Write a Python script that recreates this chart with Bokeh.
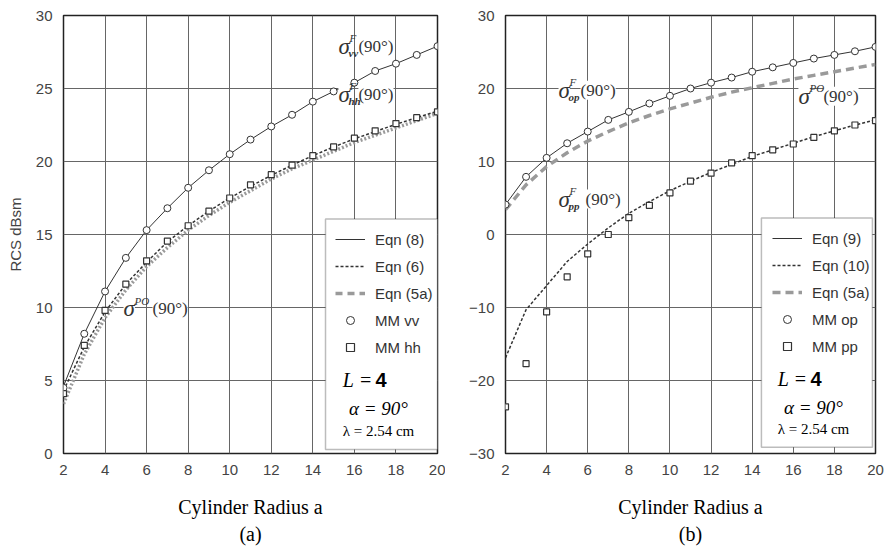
from bokeh.plotting import figure
from bokeh.models import Range1d, FixedTicker, BoxAnnotation, Legend, LegendItem, Label
from bokeh.layouts import row
from bokeh.embed import file_html
from bokeh.resources import INLINE

# ---------------- data ----------------
radius = list(range(2, 21))

# panel (a)
mm_vv = [4.5, 8.2, 11.1, 13.4, 15.3, 16.8, 18.2, 19.4, 20.5, 21.5, 22.4, 23.2, 24.1, 24.8, 25.4, 26.2, 26.7, 27.3, 27.9]
eqn8 = [4.6, 8.2, 11.1, 13.4, 15.3, 16.8, 18.2, 19.4, 20.5, 21.5, 22.4, 23.2, 24.1, 24.8, 25.4, 26.2, 26.7, 27.3, 27.9]
mm_hh = [4.1, 7.4, 9.8, 11.6, 13.2, 14.55, 15.6, 16.6, 17.5, 18.4, 19.1, 19.75, 20.4, 21.0, 21.6, 22.1, 22.6, 23.0, 23.4]
eqn6 = [4.3, 7.3, 9.7, 11.6, 13.1, 14.5, 15.6, 16.6, 17.5, 18.3, 19.05, 19.75, 20.4, 21.0, 21.55, 22.05, 22.55, 23.0, 23.45]
eqn5a = [3.4, 6.8, 9.3, 11.2, 12.8, 14.1, 15.3, 16.3, 17.2, 18.0, 18.8, 19.5, 20.1, 20.7, 21.3, 21.8, 22.3, 22.8, 23.3]

# panel (b)
mm_op = [4.1, 7.9, 10.5, 12.5, 14.1, 15.7, 16.8, 17.95, 19.0, 20.0, 20.8, 21.5, 22.3, 22.9, 23.5, 24.1, 24.6, 25.1, 25.7]
eqn9 = [4.1, 7.9, 10.5, 12.5, 14.1, 15.7, 16.8, 17.95, 19.0, 20.0, 20.8, 21.5, 22.3, 22.9, 23.5, 24.1, 24.6, 25.1, 25.7]
mm_pp = [-23.6, -17.7, -10.6, -5.8, -2.65, 0.0, 2.3, 4.0, 5.7, 7.3, 8.4, 9.8, 10.8, 11.6, 12.4, 13.3, 14.2, 15.0, 15.6]
eqn10 = [-16.9, -10.3, -7.0, -3.7, -1.3, 0.9, 2.9, 4.5, 6.0, 7.3, 8.5, 9.6, 10.7, 11.6, 12.5, 13.4, 14.2, 15.0, 15.7]

x_ticks = [2, 4, 6, 8, 10, 12, 14, 16, 18, 20]
y_ticks_a = [0, 5, 10, 15, 20, 25, 30]
y_ticks_b = [-30, -20, -10, 0, 10, 20, 30]

SANS = "Liberation Sans"
SERIF = "Liberation Serif"
INK = "#333333"
GRAY = "#9a9a9a"


def base_fig(width, y0, y1, yticks, bl, br, bt, bb, caption):
    p = figure(width=width, height=550, output_backend="svg", toolbar_location=None,
               x_range=Range1d(2, 20), y_range=Range1d(y0, y1),
               min_border_left=bl, min_border_right=br, min_border_top=bt, min_border_bottom=bb)
    p.xaxis.ticker = FixedTicker(ticks=x_ticks)
    p.yaxis.ticker = FixedTicker(ticks=yticks)
    for ax in (p.xaxis, p.yaxis):
        ax.axis_line_color = None
        ax.major_tick_line_color = None
        ax.minor_tick_line_color = None
        ax.major_label_text_font = SANS
        ax.major_label_text_font_size = "15px"
        ax.major_label_text_color = "#444444"
    p.xaxis.major_label_standoff = 5
    p.yaxis.major_label_standoff = 5
    p.grid.grid_line_color = "#666666"
    p.grid.grid_line_width = 1
    p.outline_line_color = "#222222"
    p.outline_line_width = 1.5
    p.background_fill_color = "white"
    p.border_fill_color = "white"
    p.xaxis.axis_label = "Cylinder Radius a\n" + caption
    p.xaxis.axis_label_text_font = SERIF
    p.xaxis.axis_label_text_font_style = "normal"
    p.xaxis.axis_label_text_font_size = "20px"
    p.xaxis.axis_label_text_line_height = 1.25
    p.xaxis.axis_label_text_color = "black"
    p.xaxis.axis_label_standoff = 18
    return p


def sigma(p, x, y, sup, sub, off):
    p.add_layout(Label(x=x, y=y, text="σ", text_font=SERIF, text_font_style="italic",
                       text_font_size="23px", text_baseline="middle", text_color=INK,
                       background_fill_color="white"))
    p.add_layout(Label(x=x, y=y, x_offset=off, text="(90°)", text_font=SERIF,
                       text_font_size="17px", text_baseline="middle", text_color=INK,
                       background_fill_color="white"))
    p.add_layout(Label(x=x, y=y, x_offset=11, y_offset=8, text=sup, text_font=SERIF,
                       text_font_style="italic", text_font_size="11px", text_baseline="middle",
                       text_color=INK))
    if sub:
        p.add_layout(Label(x=x, y=y, x_offset=10, y_offset=-7, text=sub, text_font=SERIF,
                           text_font_style="bold italic", text_font_size="11px",
                           text_baseline="middle", text_color=INK))


def info(p, x, yl, ya, ylam):
    p.add_layout(Label(x=x, y=yl, x_offset=-6, text="L =", text_font=SERIF, text_font_style="italic",
                       text_font_size="20px", text_align="right", text_baseline="middle", text_color="black"))
    p.add_layout(Label(x=x, y=yl, x_offset=-3, text="4", text_font="Liberation Sans", text_font_style="bold",
                       text_font_size="20px", text_align="left", text_baseline="middle", text_color="black"))
    p.add_layout(Label(x=x, y=ya, text="α = 90°", text_font=SERIF, text_font_style="italic",
                       text_font_size="19px", text_align="center", text_baseline="middle", text_color="black"))
    p.add_layout(Label(x=x, y=ylam, text="λ = 2.54 cm", text_font=SERIF,
                       text_font_size="15px", text_align="center", text_baseline="middle", text_color="black"))


def legend(p, items, loc):
    lg = Legend(items=items, location=loc, border_line_color=None, background_fill_alpha=0,
                padding=0, margin=0, spacing=7, glyph_width=30, glyph_height=20, label_height=20,
                label_standoff=10, label_text_font=SANS, label_text_font_size="15px",
                label_text_color="#333333")
    p.add_layout(lg)


# ---------------- panel (a) ----------------
pa = base_fig(445, 0, 30, y_ticks_a, 63, 8, 14, 97, "(a)")
pa.yaxis.axis_label = "RCS dBsm"
pa.yaxis.axis_label_text_font = SANS
pa.yaxis.axis_label_text_font_style = "normal"
pa.yaxis.axis_label_text_font_size = "15px"
pa.yaxis.axis_label_text_color = "#444444"
pa.yaxis.axis_label_standoff = 9

ra5 = pa.line(radius, eqn5a, line_color=GRAY, line_width=3.5, line_dash="2 2")
ra6 = pa.line(radius, eqn6, line_color=INK, line_width=1.5, line_dash="3 2")
ra8 = pa.line(radius, eqn8, line_color=INK, line_width=1)
rvv = pa.scatter(radius, mm_vv, marker="circle", size=7, fill_color="white", line_color=INK, line_width=1)
rhh = pa.scatter(radius, mm_hh, marker="square", size=6, fill_color="white", line_color=INK, line_width=1.2)
# legend-only swatch for Eqn (5a) (single point: draws no visible line in the plot)
ra5_leg = pa.line(radius[:1], eqn5a[:1], line_color=GRAY, line_width=3.5, line_dash="7 5")

pa.add_layout(BoxAnnotation(left=14.61, right=20, bottom=0.27, top=16.06, fill_color="white", fill_alpha=1,
                            line_color="#222222", line_width=1.5))
legend(pa, [LegendItem(label="Eqn (8)", renderers=[ra8]),
            LegendItem(label="Eqn (6)", renderers=[ra6]),
            LegendItem(label="Eqn (5a)", renderers=[ra5_leg]),
            LegendItem(label="MM vv", renderers=[rvv]),
            LegendItem(label="MM hh", renderers=[rhh])], (272, 96))
info(pa, 17.16, 5.05, 3.07, 1.57)
sigma(pa, 15.23, 27.88, "F", "vv", 20)
sigma(pa, 15.23, 24.6, "F", "hh", 20)
sigma(pa, 4.89, 9.9, "PO", "", 29)

# ---------------- panel (b) ----------------
pb = base_fig(440, -30, 30, y_ticks_b, 60, 10, 15, 96, "(b)")
rb5 = pb.line(radius, eqn5a, line_color=GRAY, line_width=3.5, line_dash="8 5")
rb10 = pb.line(radius, eqn10, line_color=INK, line_width=1.5, line_dash="3 2")
rb9 = pb.line(radius, eqn9, line_color=INK, line_width=1)
rop = pb.scatter(radius, mm_op, marker="circle", size=7, fill_color="white", line_color=INK, line_width=1)
rpp = pb.scatter(radius, mm_pp, marker="square", size=6, fill_color="white", line_color=INK, line_width=1.2)

pb.add_layout(BoxAnnotation(left=14.45, right=19.85, bottom=-29.15, top=2.27, fill_color="white", fill_alpha=1,
                            line_color="#222222", line_width=1.5))
legend(pb, [LegendItem(label="Eqn (9)", renderers=[rb9]),
            LegendItem(label="Eqn (10)", renderers=[rb10]),
            LegendItem(label="Eqn (5a)", renderers=[rb5]),
            LegendItem(label="MM op", renderers=[rop]),
            LegendItem(label="MM pp", renderers=[rpp])], (267, 97))
info(pb, 16.98, -19.86, -23.69, -26.69)
sigma(pb, 4.58, 19.75, "F", "op", 22)
sigma(pb, 16.25, 18.93, "PO", "", 25)
sigma(pb, 4.58, 4.86, "F", "pp", 27)

layout = row(pa, pb)
open("out.html", "w").write(file_html(layout, INLINE))
